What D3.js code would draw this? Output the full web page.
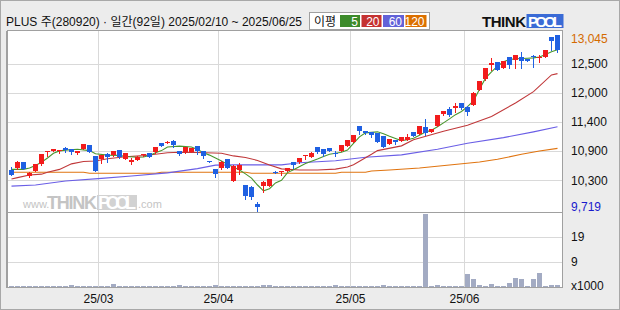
<!DOCTYPE html>
<html>
<head>
<meta charset="utf-8">
<script src="https://cdn.jsdelivr.net/npm/d3@7"></script>
<style>
  body { margin: 0; background: #ececec; }
  svg { display: block; font-family: "Liberation Sans", "Noto Sans CJK KR", sans-serif; }
</style>
</head>
<body>
<svg id="chart" width="620" height="310"></svg>
<script>
// trading days 2025/02/10 ~ 2025/06/25 (92)
var days = [
  "2025-02-10","2025-02-11","2025-02-12","2025-02-13","2025-02-14","2025-02-17","2025-02-18","2025-02-19","2025-02-20","2025-02-21",
  "2025-02-24","2025-02-25","2025-02-26","2025-02-27","2025-02-28",
  "2025-03-04","2025-03-05","2025-03-06","2025-03-07","2025-03-10","2025-03-11","2025-03-12","2025-03-13","2025-03-14","2025-03-17",
  "2025-03-18","2025-03-19","2025-03-20","2025-03-21","2025-03-24","2025-03-25","2025-03-26","2025-03-27","2025-03-28","2025-03-31",
  "2025-04-01","2025-04-02","2025-04-03","2025-04-04","2025-04-07","2025-04-08","2025-04-09","2025-04-10","2025-04-11","2025-04-14",
  "2025-04-15","2025-04-16","2025-04-17","2025-04-18","2025-04-21","2025-04-22","2025-04-23","2025-04-24","2025-04-25","2025-04-28",
  "2025-04-29","2025-04-30",
  "2025-05-02","2025-05-07","2025-05-08","2025-05-09","2025-05-12","2025-05-13","2025-05-14","2025-05-15","2025-05-16","2025-05-19",
  "2025-05-20","2025-05-21","2025-05-22","2025-05-23","2025-05-26","2025-05-27","2025-05-28","2025-05-29","2025-05-30",
  "2025-06-02","2025-06-04","2025-06-05","2025-06-09","2025-06-10","2025-06-11","2025-06-12","2025-06-13","2025-06-16","2025-06-17",
  "2025-06-18","2025-06-19","2025-06-20","2025-06-23","2025-06-24","2025-06-25"
];

var openP = [
  10495,10525,10640,10380,10475,10600,10840,10860,10850,10910, 10885,10810,10890,10965,10760,10695,10790,10770,10870,10705,
  10640,10685,10770,10810,10830,11000,11015,11040,10850,10830, 10840,10945,10850,10665,10505,10525,10695,10290,10495,10210,
  10180,9850,10190,10195,10455,10455,10480,10640,10640,10770, 10740,10925,10885,10905,10815,10860,10955,11030,11325,11235,
  11205,11185,11135,10985,11060,11045,11060,11205,11175,11310, 11215,11325,11545,11645,11670,11755,11690,11720,12005,12210,
  12485,12530,12425,12625,12575,12635,12585,12655,12605,12635, 13000,13045
];
var highP = [
  10555,10660,10645,10460,10610,10800,10855,10895,10875,10935, 10890,10850,10990,10970,10765,10785,10810,10860,10875,10815,
  10715,10750,10795,10815,10930,11005,11035,11060,10860,10930, 10910,10950,10860,10670,10510,10655,10700,10580,10630,10215,
  10185,9895,10280,10325,10480,10470,10535,10645,10720,10785, 10825,10930,10890,10910,10850,10970,11065,11160,11330,11240,
  11210,11195,11140,11080,11065,11115,11175,11215,11330,11450, 11270,11540,11615,11690,11755,11760,11695,11960,12180,12420,
  12605,12535,12560,12630,12675,12720,12590,12660,12665,12770, 13005,13045
];
var lowP = [
  10390,10520,10505,10365,10470,10595,10765,10855,10810,10840, 10795,10805,10885,10830,10475,10630,10650,10765,10730,10700,
  10600,10680,10765,10740,10820,10945,11010,10935,10785,10820, 10835,10790,10725,10645,10365,10520,10530,10285,10420,9940,
  9940,9719,10085,10190,10430,10400,10475,10525,10635,10700, 10735,10820,10765,10845,10765,10850,10950,11020,11165,11170,
  11110,11020,10930,10980,10985,11040,11055,11130,11170,11155, 11210,11320,11540,11520,11595,11655,11535,11715,12000,12200,
  12385,12380,12420,12415,12415,12415,12550,12445,12530,12630, 12760,12720
];
var closeP = [
  10400,10650,10510,10430,10600,10795,10850,10890,10870,10870, 10835,10845,10985,10835,10480,10770,10745,10850,10735,10810,
  10685,10745,10790,10745,10925,10955,11030,10965,10790,10925, 10905,10850,10765,10655,10420,10650,10535,10575,10590,10000,
  9980,9800,10270,10320,10440,10470,10530,10590,10715,10785, 10820,10830,10795,10850,10805,10965,11060,11155,11235,11200,
  11155,11030,10935,11075,11030,11110,11125,11135,11325,11185, 11265,11535,11610,11535,11710,11660,11595,11955,12175,12415,
  12510,12385,12555,12480,12665,12560,12555,12635,12635,12760, 12930,12760
];
var volume = [
  420,380,400,350,390,410,370,400,360,380, 800,390,360,400,420,380,370,1100,400,380,
  360,390,370,400,380,360,410,390,700,380, 370,390,360,400,700,380,410,390,370,400,
  380,420,750,700,390,370,400,380,360,390, 410,380,370,400,700,390,380,360,400,370,
  390,380,700,400,370,390,380,410,400,27800, 390,800,380,370,400,390,5000,3000,700,380,
  1100,390,380,1500,3400,3000,400,3000,5300,390, 700,700
];

// moving averages: [day index, price]
var ma5 = [[0,10505],[2,10505],[3,10530],[4,10580],[5,10640],[6,10720],[7,10810],[8,10855],[9,10870],[11,10885],
  [13,10860],[14,10800],[16,10775],[18,10770],[19,10750],[21,10735],[22,10740],[23,10770],[24,10820],[25,10860],
  [26,10930],[28,10945],[30,10930],[31,10880],[32,10820],[33,10775],[35,10665],[36,10600],[38,10495],[39,10420],
  [40,10340],[41,10210],[42,10100],[43,10140],[44,10250],[45,10300],[46,10445],[47,10500],[49,10615],[51,10700],
  [52,10750],[53,10790],[55,10830],[56,10870],[57,10995],[58,11120],[59,11195],[61,11215],[62,11180],[63,11130],
  [64,11090],[65,11050],[66,11065],[67,11095],[68,11150],[69,11210],[70,11245],[71,11310],[72,11385],[73,11460],
  [74,11540],[75,11600],[76,11690],[77,11800],[78,12020],[79,12230],[80,12350],[81,12455],[82,12540],[83,12580],
  [84,12595],[86,12605],[87,12612],[88,12630],[89,12675],[90,12730],[91,12765]];
var ma20 = [[0,10325],[1,10350],[3,10400],[5,10415],[6,10450],[8,10505],[10,10610],[12,10655],[14,10665],[16,10705],
  [19,10745],[22,10765],[24,10790],[26,10820],[28,10830],[31,10825],[35,10810],[37,10760],[39,10730],[41,10675],
  [43,10590],[45,10515],[48,10495],[51,10495],[54,10510],[56,10550],[57,10595],[59,10725],[60,10790],[61,10860],
  [65,10950],[67,11065],[72,11225],[76,11340],[80,11505],[84,11760],[87,11975],[90,12290],[91,12315]];
var ma60 = [[0,10190],[4,10210],[9,10285],[15,10335],[20,10380],[26,10440],[31,10520],[34,10585],[37,10590],[42,10590],
  [45,10590],[48,10630],[54,10670],[59,10735],[65,10780],[71,10885],[76,11000],[82,11105],[87,11215],[91,11310]];
var ma120 = [[0,10450],[12,10450],[13,10431],[24,10431],[25,10450],[39,10450],[40,10431],[54,10431],[55,10450],[59,10450],
  [60,10475],[63,10493],[68,10531],[73,10588],[78,10646],[81,10696],[85,10790],[88,10852],[91,10903]];

var maNames  = ["5", "20", "60", "120"];
var maColors = ["#3d8b2b", "#c53232", "#6262d8", "#dc7000"];
var lineColors = ["#4a962e", "#c0383a", "#6a5ee6", "#e07410"];

var monthLabels = ["25/03", "25/04", "25/05", "25/06"];
var priceTicks = [12500, 11950, 11400, 10850, 10300];
var priceTickLabels = ["12,500", "12,000", "11,400", "10,900", "10,300"];
var volTicks = [9500, 19000];
var volTickLabels = ["9", "19"];

var title = "PLUS 주(280920) · 일간(92일) 2025/02/10 ~ 2025/06/25";

var upColor = "#f21c1c", downColor = "#1f60e2", volColor = "#a3abc3";
var plot = {left: 7.5, right: 562.5, top: 30.5, split: 212.5, bottom: 287.5};

var svg = d3.select("#chart");

svg.append("rect").attr("x", 0.5).attr("y", 0.5).attr("width", 619).attr("height", 309)
    .attr("fill", "#ececec").attr("stroke", "#a8a8a8");

// plot background
svg.append("rect")
    .attr("x", plot.left).attr("y", plot.top)
    .attr("width", plot.right - plot.left).attr("height", plot.bottom - plot.top)
    .attr("fill", "#fff");

var idx = d3.range(days.length);
var x = d3.scaleBand().domain(idx).range([8.5, 560.5]);
var cx = function(i) { return x(i) + x.bandwidth() / 2; };

var y = d3.scaleLinear()
    .domain([d3.min(lowP), d3.max(highP)])
    .range([211, 35]);

var yv = d3.scaleLinear()
    .domain([0, d3.max(volume)])
    .range([287, 214]);

// grid
var grid = svg.append("g").attr("stroke", "#d9d9d9").attr("shape-rendering", "crispEdges");
grid.selectAll(".hp").data(priceTicks).enter().append("line")
    .attr("x1", plot.left).attr("x2", plot.right)
    .attr("y1", function(d) { return Math.round(y(d)) + 0.5; })
    .attr("y2", function(d) { return Math.round(y(d)) + 0.5; });
grid.selectAll(".hv").data(volTicks).enter().append("line")
    .attr("x1", plot.left).attr("x2", plot.right)
    .attr("y1", function(d) { return Math.round(yv(d)) + 0.5; })
    .attr("y2", function(d) { return Math.round(yv(d)) + 0.5; });

var monthIdx = monthLabels.map(function(m) {
  return days.findIndex(function(d) { return d.slice(2, 4) + "/" + d.slice(5, 7) === m; });
});
grid.selectAll(".vm").data(monthIdx).enter().append("line")
    .attr("x1", function(d) { return x(d); }).attr("x2", function(d) { return x(d); })
    .attr("y1", plot.top).attr("y2", plot.bottom);

// watermark
var wm = svg.append("g").attr("fill", "#c4c4c4").attr("font-family", "Liberation Sans, sans-serif");
wm.append("text").attr("x", 23).attr("y", 208).attr("font-size", 11).text("www.");
wm.append("text").attr("x", 47).attr("y", 209).attr("font-size", 18).attr("font-weight", "bold")
    .attr("textLength", 50).text("THINK");
wm.append("rect").attr("x", 97).attr("y", 195).attr("width", 40).attr("height", 15).attr("fill", "#d2d2d2");
wm.append("text").attr("x", 98).attr("y", 209).attr("font-size", 18).attr("font-weight", "bold")
    .attr("textLength", 38).attr("fill", "#fff").text("POOL");
wm.append("text").attr("x", 138).attr("y", 208).attr("font-size", 11).text(".com");

// volume bars
svg.append("g").attr("shape-rendering", "crispEdges")
  .selectAll("rect").data(volume).enter().append("rect")
    .attr("x", function(d, i) { return x(i) + 0.5; })
    .attr("width", 5)
    .attr("y", function(d) { return Math.min(Math.round(yv(d)), 286); })
    .attr("height", function(d) { return 287 - Math.min(Math.round(yv(d)), 286); })
    .attr("fill", volColor);

// moving averages
var line = d3.line()
    .x(function(d) { return cx(d[0]); })
    .y(function(d) { return y(d[1]); });
[ma120, ma60, ma20, ma5].forEach(function(s, k) {
  svg.append("path").datum(s)
      .attr("d", line)
      .attr("fill", "none")
      .attr("stroke", lineColors[3 - k])
      .attr("stroke-width", 1.1);
});

// candles
var candle = svg.append("g").attr("shape-rendering", "crispEdges")
  .selectAll("g").data(idx).enter().append("g")
    .attr("fill", function(i) { return closeP[i] >= openP[i] ? upColor : downColor; })
    .attr("stroke", function(i) { return closeP[i] >= openP[i] ? upColor : downColor; });

candle.append("line")
    .attr("x1", cx).attr("x2", cx)
    .attr("y1", function(i) { return Math.round(y(highP[i])); })
    .attr("y2", function(i) { return Math.round(y(lowP[i])) + 1; });

candle.append("rect")
    .attr("stroke", "none")
    .attr("x", function(i) { return x(i) + 0.5; })
    .attr("width", 5)
    .attr("y", function(i) { return Math.round(y(Math.max(openP[i], closeP[i]))); })
    .attr("height", function(i) {
      var t = Math.round(y(Math.max(openP[i], closeP[i])));
      var b = Math.round(y(Math.min(openP[i], closeP[i])));
      return Math.max(1, b - t);
    });

// frame
var frame = svg.append("g").attr("stroke", "#a0a0a0").attr("fill", "none").attr("shape-rendering", "crispEdges");
frame.append("rect").attr("x", plot.left).attr("y", plot.top)
    .attr("width", plot.right - plot.left).attr("height", plot.bottom - plot.top);
frame.append("line").attr("x1", plot.left).attr("x2", plot.right).attr("y1", plot.split).attr("y2", plot.split);
frame.append("line").attr("x1", 6.5).attr("x2", 6.5).attr("y1", plot.top).attr("y2", plot.bottom);

// right axis labels
var ax = svg.append("g").attr("font-size", 12).attr("fill", "#111");
ax.selectAll(".pl").data(priceTicks).enter().append("text")
    .attr("x", 571).attr("y", function(d) { return y(d); }).attr("dy", "0.36em")
    .text(function(d, i) { return priceTickLabels[i]; });
ax.append("text").attr("x", 571).attr("y", y(d3.max(highP)) + 4).attr("dy", "0.36em")
    .attr("fill", "#d46a00").text(d3.format(",")(d3.max(highP)));
ax.append("text").attr("x", 571).attr("y", y(d3.min(lowP)) - 4).attr("dy", "0.36em")
    .attr("fill", "#1a1acc").text(d3.format(",")(d3.min(lowP)));
ax.selectAll(".vl").data(volTicks).enter().append("text")
    .attr("x", 571).attr("y", function(d) { return yv(d); }).attr("dy", "0.36em")
    .text(function(d, i) { return volTickLabels[i]; });
ax.append("text").attr("x", 571).attr("y", 286).attr("dy", "0.36em").text("x1000");

// month labels
ax.selectAll(".ml").data(monthIdx).enter().append("text")
    .attr("x", function(d) { return x(d); }).attr("y", 299).attr("dy", "0.36em")
    .attr("text-anchor", "middle")
    .text(function(d, i) { return monthLabels[i]; });

// header
svg.append("text").attr("x", 6).attr("y", 26).attr("font-size", 12).attr("fill", "#111").text(title);

var lg = svg.append("g");
lg.append("rect").attr("x", 309.5).attr("y", 12.5).attr("width", 120).attr("height", 17)
    .attr("fill", "#fff").attr("stroke", "#a0a0a0");
lg.append("text").attr("x", 314).attr("y", 26).attr("font-size", 12).attr("fill", "#111").text("이평");
var boxX = [340, 361.5, 383, 405.5], boxW = [20, 20, 21, 21];
maNames.forEach(function(n, k) {
  lg.append("rect").attr("x", boxX[k]).attr("y", 15).attr("width", boxW[k]).attr("height", 12)
      .attr("fill", maColors[k]);
  lg.append("text").attr("x", boxX[k] + boxW[k] - 2).attr("y", 25.5).attr("text-anchor", "end")
      .attr("font-size", 12).attr("fill", "#fff").text(n);
});

// logo
var logo = svg.append("g").attr("font-family", "Liberation Sans, sans-serif").attr("font-weight", "bold");
logo.append("text").attr("x", 482).attr("y", 27).attr("font-size", 15).attr("fill", "#111")
    .attr("textLength", 44).text("THINK");
logo.append("rect").attr("x", 526.5).attr("y", 14).attr("width", 37).attr("height", 14).attr("fill", "#3a6bd6");
logo.append("text").attr("x", 528).attr("y", 27).attr("font-size", 15).attr("fill", "#fff")
    .attr("textLength", 34).text("POOL");
</script>
</body>
</html>
